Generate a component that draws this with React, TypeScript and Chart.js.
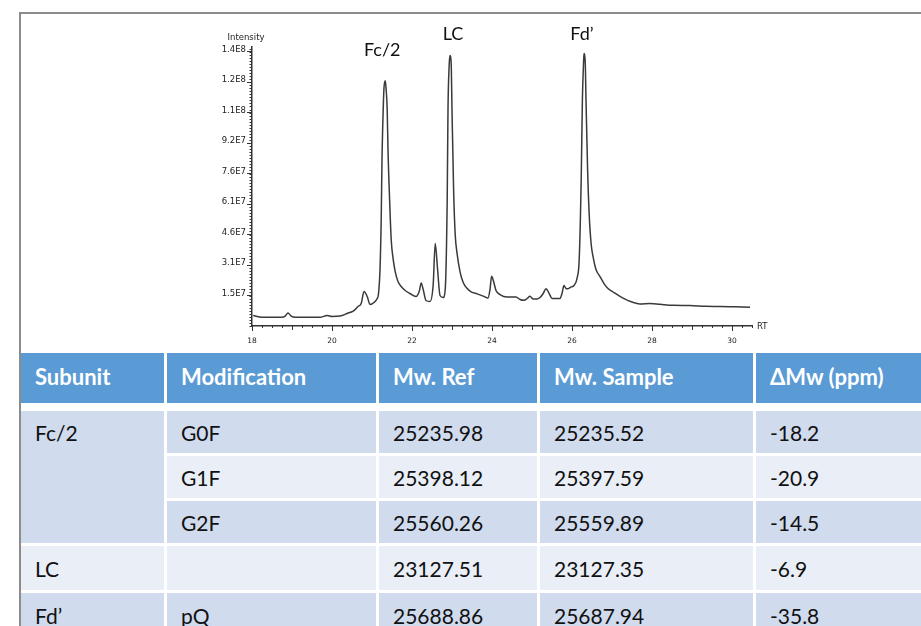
import React, { useEffect, useRef } from 'react';
import { Chart, registerables } from 'chart.js';

Chart.register(...registerables);

// Retention time (min)
const retentionTimes = [
  18.03, 18.25, 18.75, 18.83, 18.9, 18.98, 19.08, 19.7, 19.88, 20.0,
  20.2, 20.38, 20.53, 20.65, 20.73, 20.8, 20.88, 20.95, 21.05, 21.13,
  21.16, 21.2, 21.23, 21.25, 21.28, 21.3, 21.33, 21.35, 21.38, 21.4,
  21.44, 21.48, 21.53, 21.58, 21.65, 21.73, 21.83, 21.95, 22.1, 22.18,
  22.23, 22.28, 22.35, 22.45, 22.53, 22.58, 22.64, 22.7, 22.78, 22.83,
  22.88, 22.9, 22.93, 22.95, 22.98, 23.0, 23.04, 23.08, 23.13, 23.2,
  23.28, 23.38, 23.48, 23.63, 23.78, 23.9, 23.95, 23.99, 24.04, 24.1,
  24.2, 24.38, 24.6, 24.7, 24.8, 24.88, 24.95, 25.03, 25.13, 25.2,
  25.28, 25.35, 25.43, 25.5, 25.7, 25.75, 25.8, 25.85, 25.9, 25.98,
  26.05, 26.13, 26.18, 26.23, 26.26, 26.29, 26.3, 26.33, 26.35, 26.39,
  26.43, 26.48, 26.53, 26.6, 26.7, 26.8, 26.9, 27.05, 27.2, 27.45,
  27.7, 27.95, 28.2, 28.53, 28.95, 29.35, 29.7, 30.08, 30.45,
];

// Intensity in millions (x1E6)
const intensityMillions = [
  5.3, 4.4, 4.4, 5.0, 6.5, 5.0, 4.4, 4.4, 5.3, 4.8,
  5.0, 6.3, 7.5, 9.8, 11.3, 17.3, 14.8, 10.8, 11.8, 13.8,
  15.8, 28.3, 53.4, 83.5, 108.6, 119.6, 123.1, 119.6, 108.6, 88.5,
  63.5, 43.4, 33.4, 27.3, 22.3, 19.8, 17.8, 16.3, 14.8, 17.3,
  21.6, 18.3, 12.8, 12.3, 20.8, 41.4, 28.3, 15.3, 14.3, 18.3,
  63.5, 108.6, 131.2, 135.7, 131.2, 108.6, 68.5, 45.9, 35.9, 27.3,
  21.8, 18.8, 17.1, 16.1, 15.0, 14.0, 18.3, 25.0, 22.3, 17.8,
  15.8, 14.6, 14.6, 13.3, 12.9, 13.8, 14.9, 13.5, 13.6, 14.3,
  16.3, 18.7, 16.3, 13.8, 13.8, 16.3, 20.3, 18.8, 18.7, 19.6,
  20.3, 24.3, 33.4, 73.5, 113.6, 132.7, 136.7, 132.7, 113.6, 78.5,
  55.9, 40.9, 34.4, 28.3, 24.8, 21.3, 18.8, 16.8, 14.9, 12.4,
  11.1, 11.3, 10.9, 10.4, 10.3, 9.9, 9.8, 9.6, 9.4,
];

const xTickValues = [18, 20, 22, 24, 26, 28, 30];
const yTickValues = [15.3, 30.6, 45.9, 61.2, 76.5, 91.8, 107.1, 122.4, 137.7];
const yTickLabels = ['1.5E7', '3.1E7', '4.6E7', '6.1E7', '7.6E7', '9.2E7', '1.1E8', '1.2E8', '1.4E8'];

const peakNames = ['Fc/2', 'LC', 'Fd\u2019'];
const peakTimes = [21.33, 22.95, 26.3];

// Table data
const tableHeaders = ['Subunit', 'Modification', 'Mw. Ref', 'Mw. Sample', '\u0394Mw (ppm)'];
const subunits = ['Fc/2', 'Fc/2', 'Fc/2', 'LC', 'Fd\u2019'];
const modifications = ['G0F', 'G1F', 'G2F', '', 'pQ'];
const mwRef = ['25235.98', '25398.12', '25560.26', '23127.51', '25688.86'];
const mwSample = ['25235.52', '25397.59', '25559.89', '23127.35', '25687.94'];
const deltaMw = ['-18.2', '-20.9', '-14.5', '-6.9', '-35.8'];

const labelOffsets = [
  { dx: -3, dy: 30 },
  { dx: 3, dy: 21 },
  { dx: -2, dy: 19 },
];

const decorPlugin = {
  id: 'decor',
  afterDraw(chart: any) {
    const { ctx, chartArea } = chart;
    const xs = chart.scales.x;
    const ys = chart.scales.y;
    const y0 = ys.getPixelForValue(0);
    const x0 = chartArea.left;
    ctx.save();
    ctx.strokeStyle = '#333';
    ctx.lineWidth = 1;
    // minor x ticks
    for (let i = 0; i <= 50; i++) {
      const v = 18 + i * 0.25;
      const px = Math.round(xs.getPixelForValue(v)) + 0.5;
      const len = i % 4 === 0 ? 4 : 2;
      ctx.beginPath();
      ctx.moveTo(px, y0);
      ctx.lineTo(px, y0 + len);
      ctx.stroke();
    }
    // minor y ticks
    for (let i = 0; i <= 91; i++) {
      const v = i * 1.53;
      const py = Math.round(ys.getPixelForValue(v)) + 0.5;
      ctx.beginPath();
      ctx.moveTo(x0, py);
      ctx.lineTo(x0 - 2.5, py);
      ctx.stroke();
    }
    // axis captions
    ctx.fillStyle = '#222';
    ctx.font = '8.5px "DejaVu Sans"';
    ctx.textAlign = 'center';
    ctx.textBaseline = 'middle';
    ctx.fillText('Intensity', x0 - 6, chartArea.top - 9);
    ctx.textAlign = 'left';
    ctx.fillText('RT', chartArea.right + 5, y0 + 1);
    // peak labels
    ctx.font = '18px Lato';
    ctx.fillStyle = '#111';
    ctx.textAlign = 'center';
    peakNames.forEach((name, i) => {
      const t = peakTimes[i];
      let best = 0;
      retentionTimes.forEach((rt, j) => {
        if (Math.abs(rt - t) < 0.1 && intensityMillions[j] > best) best = intensityMillions[j];
      });
      const px = xs.getPixelForValue(t) + labelOffsets[i].dx;
      const py = ys.getPixelForValue(best) - labelOffsets[i].dy;
      ctx.fillText(name, px, py);
    });
    ctx.restore();
  },
};

function Chromatogram() {
  const ref = useRef<HTMLCanvasElement | null>(null);
  useEffect(() => {
    if (!ref.current) return;
    const chart = new Chart(ref.current, {
      type: 'line',
      data: {
        datasets: [
          {
            data: retentionTimes.map((x, i) => ({ x, y: intensityMillions[i] })),
            borderColor: '#3a3a3a',
            borderWidth: 1.5,
            pointRadius: 0,
            cubicInterpolationMode: 'monotone',
            fill: false,
          },
        ],
      },
      options: {
        animation: false,
        responsive: false,
        maintainAspectRatio: false,
        layout: { padding: { top: 27, right: 48, bottom: 6, left: 0 } },
        plugins: { legend: { display: false }, tooltip: { enabled: false } },
        scales: {
          x: {
            type: 'linear',
            min: 18,
            max: 30.5,
            afterFit: (s: any) => { s.height = 20; },
            afterBuildTicks: (s: any) => { s.ticks = xTickValues.map((v) => ({ value: v })); },
            ticks: {
              font: { family: 'DejaVu Sans', size: 7.5 },
              color: '#222',
              padding: 6,
              maxRotation: 0,
              autoSkip: false,
              callback: (v: any) => String(v),
            },
            grid: { drawOnChartArea: false, drawTicks: true, tickLength: 5, color: '#333' },
            border: { display: true, color: '#333', width: 1.5 },
          },
          y: {
            type: 'linear',
            min: 0,
            max: 140,
            afterFit: (s: any) => { s.width = 102; },
            afterBuildTicks: (s: any) => { s.ticks = yTickValues.map((v) => ({ value: v })); },
            ticks: {
              font: { family: 'DejaVu Sans', size: 8.5 },
              color: '#222',
              padding: 1,
              labelOffset: -2,
              autoSkip: false,
              callback: (_v: any, i: number) => yTickLabels[i],
            },
            grid: { drawOnChartArea: false, drawTicks: true, tickLength: 5, color: '#333' },
            border: { display: true, color: '#333', width: 1.5 },
          },
        },
      },
      plugins: [decorPlugin],
    } as any);
    return () => chart.destroy();
  }, []);
  return (
    <canvas
      ref={ref}
      width={650}
      height={332}
      style={{ position: 'absolute', left: 150, top: 20, width: 650, height: 332 }}
    />
  );
}

const HEADER_BG = '#5B9BD5';
const DARK_BAND = '#D0DBEE';
const LIGHT_BAND = '#E9EEF7';

function DataTable() {
  const cell = (bg: string, extra: any = {}) => ({
    background: bg,
    display: 'flex',
    alignItems: 'center',
    paddingLeft: 14,
    boxSizing: 'border-box' as const,
    ...extra,
  });
  const bands = [DARK_BAND, LIGHT_BAND, DARK_BAND, LIGHT_BAND, DARK_BAND];
  const rows: any[] = [];
  subunits.forEach((s, i) => {
    const bg = bands[i];
    const gridRow = i + 2;
    if (i === 0) {
      rows.push(
        <div key={'s' + i} style={{ ...cell(DARK_BAND), gridRow: '2 / span 3', gridColumn: 1, alignItems: 'flex-start' }}>
          <div style={{ height: 42, display: 'flex', alignItems: 'center' }}>{s}</div>
        </div>
      );
    } else if (i > 2) {
      rows.push(<div key={'s' + i} style={{ ...cell(bg), gridRow, gridColumn: 1 }}>{s}</div>);
    }
    rows.push(<div key={'m' + i} style={{ ...cell(bg), gridRow, gridColumn: 2 }}>{modifications[i]}</div>);
    rows.push(<div key={'r' + i} style={{ ...cell(bg), gridRow, gridColumn: 3 }}>{mwRef[i]}</div>);
    rows.push(<div key={'p' + i} style={{ ...cell(bg), gridRow, gridColumn: 4 }}>{mwSample[i]}</div>);
    rows.push(<div key={'d' + i} style={{ ...cell(bg), gridRow, gridColumn: 5 }}>{deltaMw[i]}</div>);
  });
  return (
    <div
      style={{
        position: 'absolute',
        left: 21,
        top: 353,
        display: 'grid',
        gridTemplateColumns: '143px 209px 158px 213px 180px',
        gridTemplateRows: '55px 42px 42px 42px 44px 44px',
        columnGap: 3,
        rowGap: 3,
        fontFamily: 'Lato, "Open Sans", sans-serif',
        fontSize: 21,
        color: '#111',
        background: '#fff',
      }}
    >
      {tableHeaders.map((h, i) => (
        <div
          key={'h' + i}
          style={{
            ...cell(HEADER_BG),
            gridRow: 1,
            gridColumn: i + 1,
            height: 50,
            paddingBottom: 4,
            alignSelf: 'start',
            color: '#fff',
            fontWeight: 700,
            fontSize: 22,
          }}
        >
          {h}
        </div>
      ))}
      {rows}
    </div>
  );
}

export default function App() {
  return (
    <div
      style={{
        position: 'absolute',
        left: 0,
        top: 0,
        width: 921,
        height: 626,
        overflow: 'hidden',
        background: '#fff',
      }}
    >
      <div
        style={{
          position: 'absolute',
          left: 19,
          top: 12,
          width: 1000,
          height: 800,
          borderLeft: '2px solid #8c8c8c',
          borderTop: '2px solid #8c8c8c',
        }}
      />
      <Chromatogram />
      <DataTable />
    </div>
  );
}
